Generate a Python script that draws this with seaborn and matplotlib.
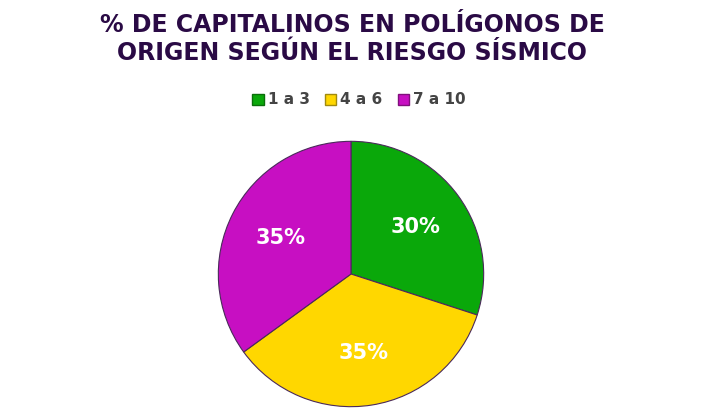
import matplotlib
matplotlib.use("Agg")
import matplotlib.pyplot as plt
import seaborn as sns
from matplotlib.patches import Patch

categories = ["1 a 3", "4 a 6", "7 a 10"]
values = [30, 35, 35]
colors = ["#0aa80a", "#ffd700", "#c70fc2"]
edge_colors = ["#0a6e0a", "#a08a10", "#80107c"]
title = "% DE CAPITALINOS EN POLÍGONOS DE\nORIGEN SEGÚN EL RIESGO SÍSMICO"

sns.set_theme(style="white")
plt.rcParams['font.family'] = ['DejaVu Sans']

fig = plt.figure(figsize=(7.04, 4.2), dpi=100)
fig.patch.set_facecolor("white")

cx, cy, r = 351, 274, 134
W, H = 704, 420
ax = fig.add_axes([(cx - r) / W, (H - cy - r) / H, 2 * r / W, 2 * r / H])
wedges, texts, autotexts = ax.pie(
    values, colors=colors, startangle=90, counterclock=False,
    autopct=lambda p: f"{p:.0f}%", pctdistance=0.6, radius=1,
    wedgeprops=dict(edgecolor="#4a2a5a", linewidth=0.8),
    textprops=dict(color="white", fontsize=15, fontweight="bold"),
)
ax.set_xlim(-1.01, 1.01)
ax.set_ylim(-1.01, 1.01)
ax.set_aspect("equal")
ax.axis("off")

fig.text(352 / W, 1 - 39 / H, title, ha="center", va="center",
         fontsize=17, fontweight="bold", color="#2a0a45", linespacing=1.2)

handles = [Patch(facecolor=c, edgecolor=e, linewidth=1) for c, e in zip(colors, edge_colors)]
leg = fig.legend(handles, categories, loc="center", bbox_to_anchor=(359 / W, 1 - 100 / H),
                 ncol=3, frameon=False, handlelength=0.75, handleheight=0.75,
                 handletextpad=0.25, columnspacing=1.0,
                 prop=dict(weight="bold", size=11))
for t in leg.get_texts():
    t.set_color("#444444")

fig.savefig("out.png", dpi=100)
